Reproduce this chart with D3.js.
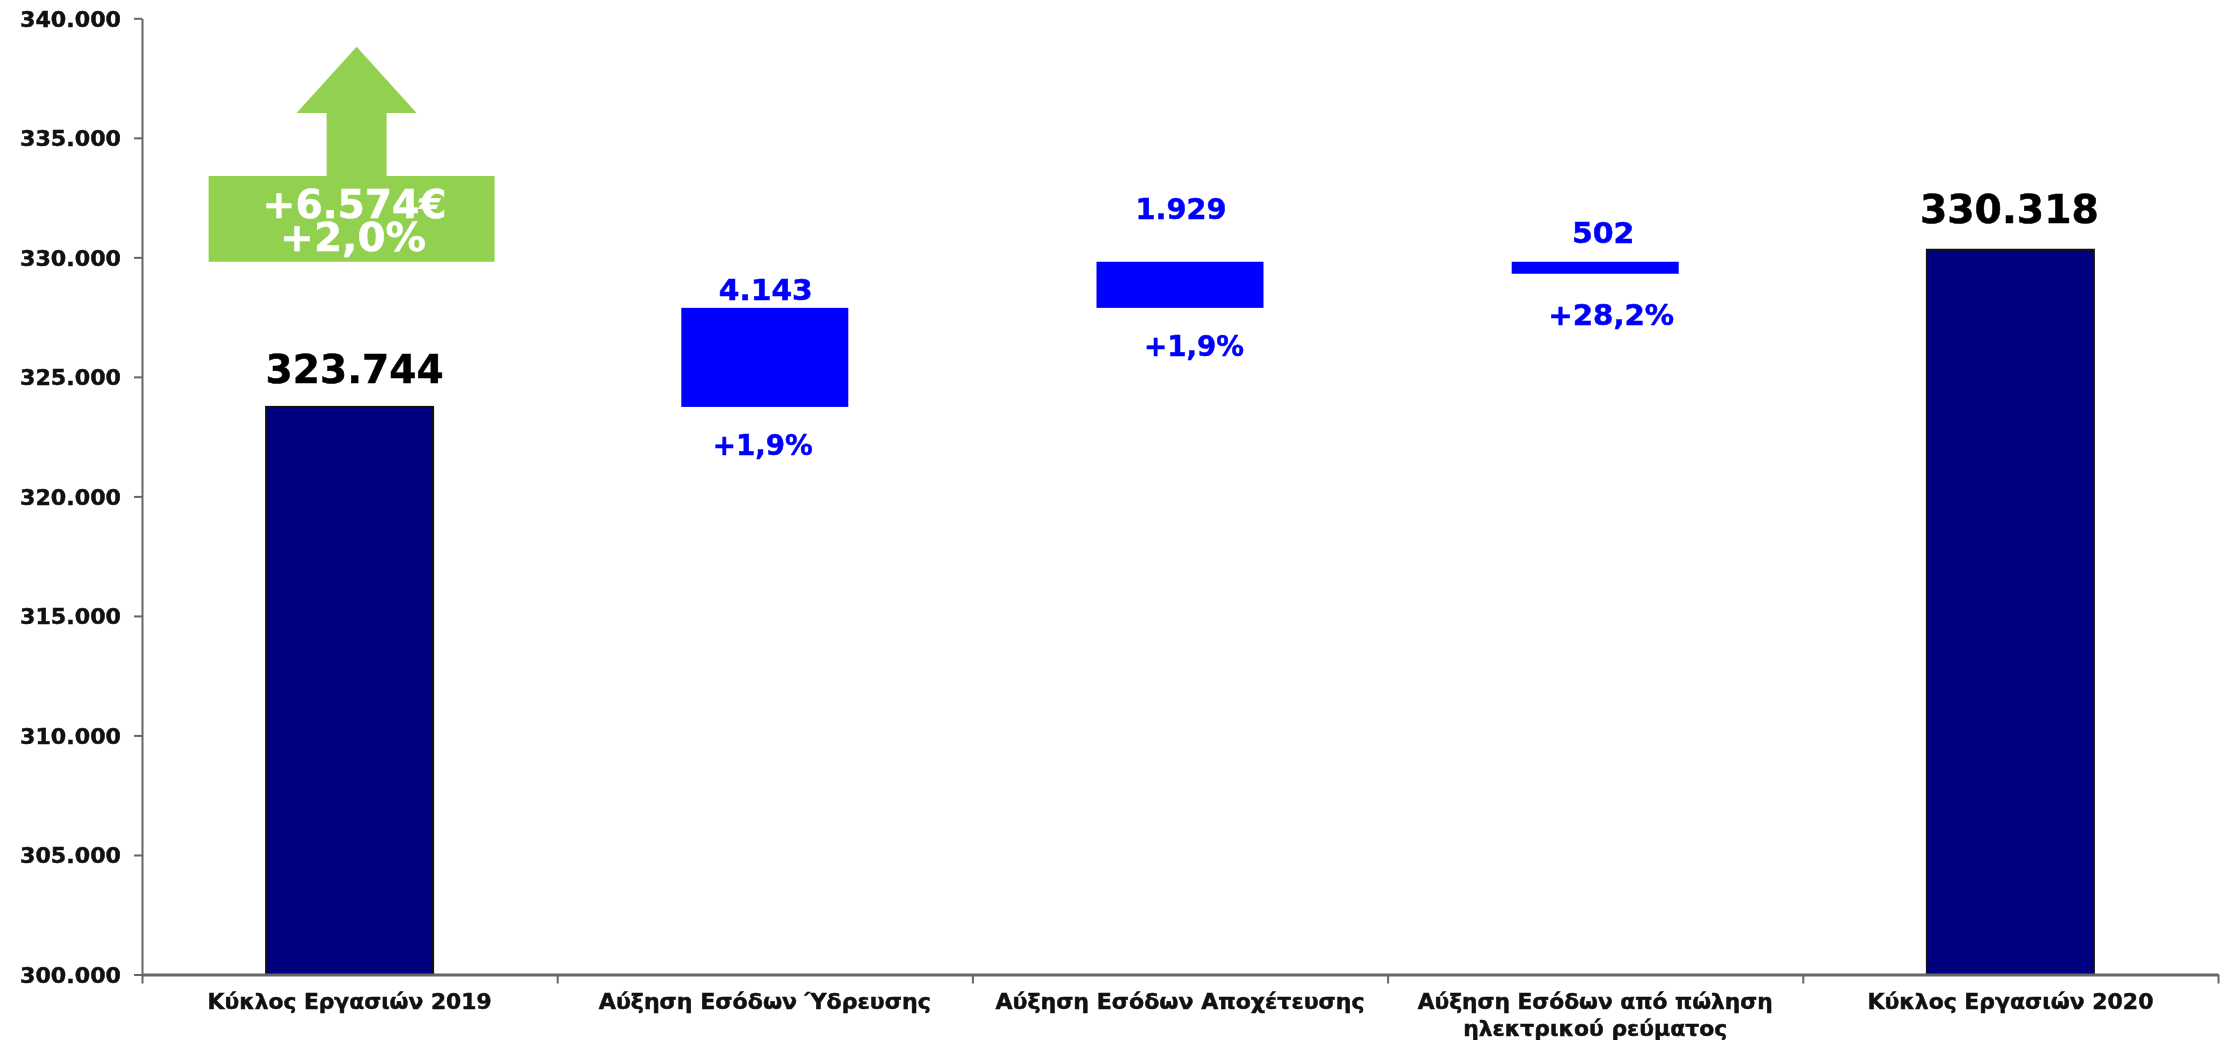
<!DOCTYPE html>
<html><head><meta charset="utf-8">
<script src="https://cdnjs.cloudflare.com/ajax/libs/d3/7.8.5/d3.min.js"></script>
<style>html,body{margin:0;padding:0;background:#fff;overflow:hidden}svg{display:block;filter:blur(.5px)}
text{font-family:"DejaVu Sans",Verdana,sans-serif;font-weight:700;stroke-width:.5px;paint-order:stroke}</style></head><body>
<svg id="c" width="2226" height="1040"></svg>
<script>
// ---- data ----
const categories = ["Κύκλος Εργασιών 2019","Αύξηση Εσόδων Ύδρευσης","Αύξηση Εσόδων Αποχέτευσης","Αύξηση Εσόδων από πώληση\nηλεκτρικού ρεύματος","Κύκλος Εργασιών 2020"];
const barBase  = [300000,323744,327887,329314,300000];
const barValue = [23744,4143,1929,502,30318];
const barLabels = ["323.744","4.143","1.929","502","330.318"];
const pctLabels = [null,"+1,9%","+1,9%","+28,2%",null];
const yTicks = [300000,305000,310000,315000,320000,325000,330000,335000,340000];
const arrowLevels = {tip:338812, head:336038, boxTop:333400, boxBottom:329816};
const arrowLines = ["+6.574€","+2,0%"];

// ---- layout ----
const plot = {l:142,r:2218,t:18.3,b:974.5};
const totalIdx = new Set([0,4]);
const valBaseline = [383,300,219,242.7,223];
const valDx = [5,1,1,8,-1];
const valSize = [39,28,28,28,39];
const valWidth = [178,94,91,62.5,179];
const pctBaseline = [0,455,356,325,0];
const pctDx = [0,-2,14,16,0];
const pctWidth = [0,100,100,126,0];
const catWidth = [[284],[332],[369],[355,264],[286]];

const svg = d3.select("#c");
const xb = d3.scaleBand().domain(categories).range([plot.l,plot.r]);
const y = d3.scaleLinear().domain([300000,340000]).range([plot.b,plot.t]);
const fmt = v => d3.format(",")(v).replace(/,/g,".");

function fit(sel,w,col){ sel.attr("textLength",w).attr("lengthAdjust","spacingAndGlyphs").attr("stroke",col); return sel; }

// bars
const barW = 167;
svg.append("g").selectAll("rect").data(categories).join("rect")
  .attr("x",c=>xb(c)+xb.bandwidth()/2-barW/2).attr("width",barW)
  .attr("y",(c,i)=>y(barBase[i]+barValue[i]))
  .attr("height",(c,i)=>y(barBase[i])-y(barBase[i]+barValue[i]))
  .attr("fill",(c,i)=>totalIdx.has(i)?"#000080":"#0000ff")
  .attr("stroke",(c,i)=>totalIdx.has(i)?"#111":"none").attr("stroke-width",2);

// y axis
const ga = svg.append("g").attr("transform",`translate(${plot.l},0)`)
  .call(d3.axisLeft(y).tickValues(yTicks).tickFormat(fmt).tickSize(8).tickSizeOuter(0));
ga.select(".domain").attr("stroke","#666").attr("stroke-width",2);
ga.selectAll(".tick line").attr("stroke","#666").attr("stroke-width",2);
ga.selectAll(".tick text").attr("x",-21).attr("dy",null)
  .attr("y",8).attr("fill","#111").attr("stroke","#111").style("font-size","22px")
  .attr("textLength",101).attr("lengthAdjust","spacingAndGlyphs");

// x axis: edge ticks
const edges = d3.range(categories.length+1);
const xe = d3.scaleLinear().domain([0,categories.length]).range([plot.l,plot.r]);
const gb = svg.append("g").attr("transform",`translate(0,${plot.b})`)
  .call(d3.axisBottom(xe).tickValues(edges).tickFormat("").tickSize(9).tickSizeOuter(0));
gb.select(".domain").attr("stroke","#666").attr("stroke-width",3);
gb.selectAll(".tick line").attr("stroke","#666").attr("stroke-width",2);

// category labels
const gc = svg.append("g");
categories.forEach((c,i)=>{
  c.split("\n").forEach((line,j)=>{
    fit(gc.append("text").text(line)
      .attr("x",xb(c)+xb.bandwidth()/2).attr("y",1009+j*26.5)
      .attr("text-anchor","middle").attr("fill","#111").style("font-size","21px"),catWidth[i][j],"#111");
  });
});

// value labels
categories.forEach((c,i)=>{
  const col = totalIdx.has(i)?"#000":"#0000ff";
  fit(svg.append("text").text(barLabels[i])
    .attr("x",xb(c)+xb.bandwidth()/2+valDx[i]).attr("y",valBaseline[i])
    .attr("text-anchor","middle").attr("fill",col)
    .style("font-size",valSize[i]+"px"),valWidth[i],col);
  if(pctLabels[i]) fit(svg.append("text").text(pctLabels[i])
    .attr("x",xb(c)+xb.bandwidth()/2+pctDx[i]).attr("y",pctBaseline[i])
    .attr("text-anchor","middle").attr("fill","#0000ff").style("font-size","28px"),pctWidth[i],"#0000ff");
});

// green arrow annotation
const ax = xb(categories[0])+xb.bandwidth()/2;
const a = arrowLevels, cx = ax+7;
const pts = [[cx,y(a.tip)],[cx+60,y(a.head)],[cx+30,y(a.head)],[cx+30,y(a.boxTop)],[ax+145,y(a.boxTop)],
  [ax+145,y(a.boxBottom)],[ax-141,y(a.boxBottom)],[ax-141,y(a.boxTop)],[cx-30,y(a.boxTop)],[cx-30,y(a.head)],[cx-60,y(a.head)]];
svg.append("polygon").attr("points",pts.map(p=>p.join(",")).join(" ")).attr("fill","#92d050");
[[218,184,5],[250.7,146,3.5]].forEach((t,i)=>{
  fit(svg.append("text").text(arrowLines[i]).attr("x",ax+t[2]).attr("y",t[0])
    .attr("text-anchor","middle").attr("fill","#fff").style("font-size","39px"),t[1],"#fff");
});
</script></body></html>
